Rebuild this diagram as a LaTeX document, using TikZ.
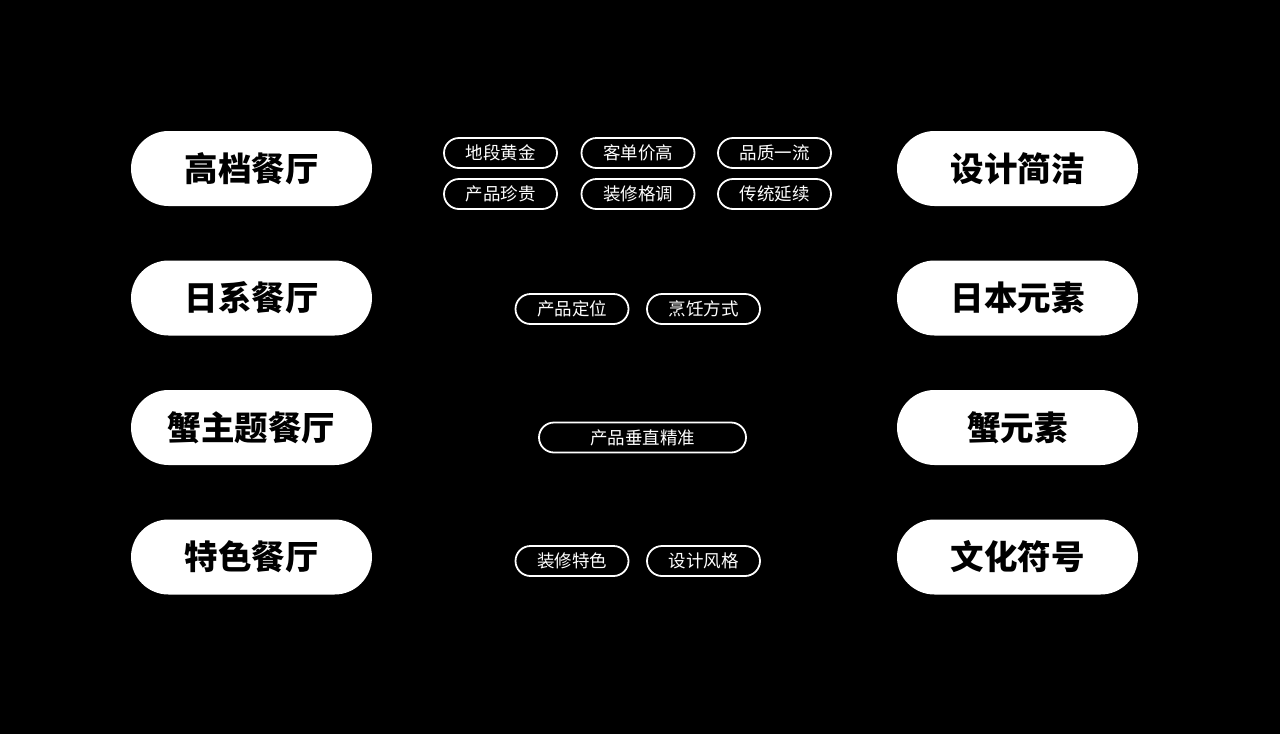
\documentclass[tikz,border=0pt]{standalone}
\usepackage{fontspec}
\newfontfamily\cjk{Noto Sans CJK SC}
\begin{document}
\begin{tikzpicture}[x=1pt, y=-1pt,
    bigpill/.style={draw=none, fill=white, text=black, rounded corners=37.5pt, minimum width=241pt, minimum height=75pt, inner sep=0pt, font=\cjk\bfseries\fontsize{33.5pt}{33.5pt}\selectfont},
    tagpill/.style={draw=white, line width=1.8pt, fill=black, text=white, rounded corners=15pt, minimum width=113pt, minimum height=30pt, inner sep=0pt, font=\cjk\fontsize{17.5pt}{17.5pt}\selectfont}]
		    \fill[black] (0,0) rectangle (1280,734);
		    \useasboundingbox (0,0) rectangle (1280,734);

		    \node[bigpill] (LA) at (251.5,168.5) {高档餐厅};
		    \node[bigpill] (LB) at (251.5,298) {日系餐厅};
		    \node[bigpill] (LC) at (251.5,427.5) {蟹主题餐厅};
		    \node[bigpill] (LD) at (251.5,557) {特色餐厅};

		    \node[bigpill] (RA) at (1017.5,168.5) {设计简洁};
		    \node[bigpill] (RB) at (1017.5,298) {日本元素};
		    \node[bigpill] (RC) at (1017.5,427.5) {蟹元素};
		    \node[bigpill] (RD) at (1017.5,557) {文化符号};

		    \node[tagpill] (TA) at (500.5,153) {地段黄金};
		    \node[tagpill] (TB) at (638,153) {客单价高};
		    \node[tagpill] (TC) at (774.5,153) {品质一流};
		    \node[tagpill] (TD) at (500.5,194) {产品珍贵};
		    \node[tagpill] (TE) at (638,194) {装修格调};
		    \node[tagpill] (TF) at (774.5,194) {传统延续};

		    \node[tagpill] (TG) at (572,309) {产品定位};
		    \node[tagpill] (TH) at (703.5,309) {烹饪方式};

		    \node[tagpill, minimum width=207pt] (TI) at (642.5,437.5) {产品垂直精准};

		    \node[tagpill] (TJ) at (572,561) {装修特色};
		    \node[tagpill] (TK) at (703.5,561) {设计风格};
\end{tikzpicture}
\end{document}
